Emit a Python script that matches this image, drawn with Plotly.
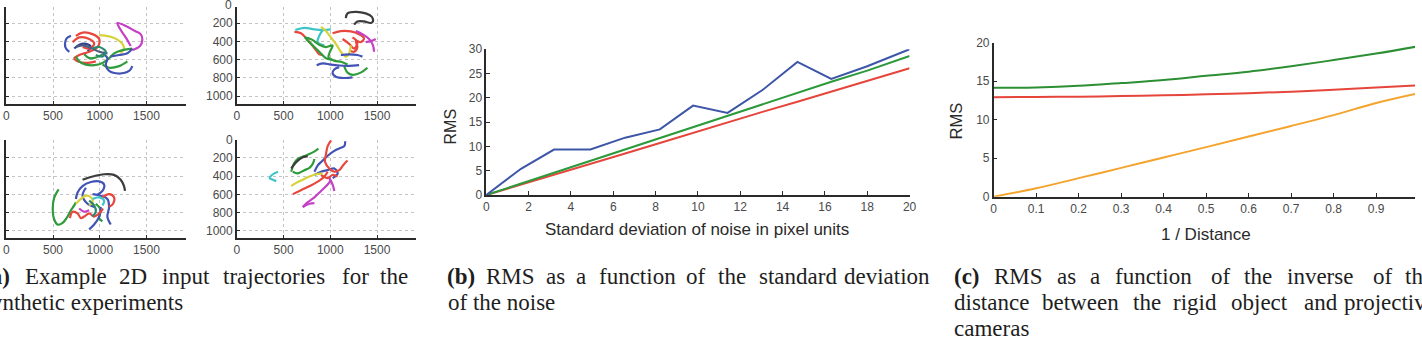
import plotly.graph_objects as go

W, H = 1422, 344

# ---------------- Panel (a): 2D input trajectories (image pixel coords) ----------------
tl_paths = {
    "blue_a": ([692, 646, 628, 639, 675], [339, 367, 427, 479, 514]),
    "navy_a": ([728, 781, 852, 905, 870], [479, 437, 427, 462, 507]),
    "red_a": ([745, 817, 923, 994, 976, 888, 781, 728, 763, 852, 958],
              [339, 304, 321, 374, 462, 514, 549, 584, 619, 636, 619]),
    "red_b": ([710, 781, 888, 941, 888, 817], [409, 356, 374, 427, 479, 462]),
    "yellow_a": ([994, 1101, 1189, 1243, 1260, 1225], [332, 346, 381, 427, 479, 531]),
    "magenta_a": ([1331, 1285, 1225, 1189, 1285, 1377, 1438, 1456, 1431, 1349],
                  [451, 367, 276, 199, 234, 287, 321, 381, 451, 496]),
    "green_a": ([745, 781, 852, 941, 1030, 1101, 1154, 1243, 1349],
                [566, 619, 654, 661, 636, 584, 531, 496, 479]),
    "green_b": ([1030, 1101, 1207, 1296], [654, 689, 671, 619]),
    "green_c": ([834, 888, 958, 1030], [542, 584, 577, 542]),
    "blue_b": ([1030, 1083, 1065, 1101, 1207, 1314, 1349], [531, 584, 654, 724, 752, 724, 671]),
    "blue_c": ([1118, 1207, 1296, 1349], [566, 549, 531, 479]),
    "slate_a": ([745, 817, 923, 994, 1083], [462, 444, 479, 514, 531]),
    "teal_b": ([923, 994, 1065, 1030, 958], [479, 462, 514, 566, 549]),
}

tr_paths = {
    "black_a": ([1166, 1184, 1273, 1379, 1443, 1457, 1432, 1361, 1290, 1255],
                [147, 94, 77, 94, 129, 182, 199, 182, 182, 217]),
    "cyan_a": ([626, 722, 829, 918, 1006], [276, 252, 269, 276, 269]),
    "cyan_b": ([918, 882, 864, 935], [276, 339, 409, 444]),
    "red_a": ([616, 687, 747, 793, 847, 882, 918], [297, 311, 374, 427, 496, 542, 549]),
    "red_b": ([1024, 1113, 1219, 1308, 1361, 1326, 1273, 1290, 1255, 1202],
              [311, 287, 290, 322, 367, 409, 392, 462, 514, 496]),
    "red_c": ([1131, 1202, 1255, 1290, 1237], [374, 427, 479, 409, 357]),
    "yellow_a": ([900, 953, 1006, 1060, 1113, 1166, 1202, 1219], [241, 287, 357, 427, 514, 567, 532, 444]),
    "magenta_a": ([1273, 1344, 1415, 1457, 1468], [287, 322, 374, 444, 514]),
    "magenta_b": ([1379, 1450, 1486], [409, 392, 374]),
    "green_a": ([722, 804, 882, 953, 1024, 996, 981, 1042, 1123, 1184],
                [357, 381, 437, 462, 444, 514, 577, 612, 626, 654]),
    "green_b": ([1148, 1184, 1237, 1326, 1397], [672, 742, 766, 742, 689]),
    "green_c": ([740, 811, 882, 953, 1024], [374, 444, 514, 584, 601]),
    "blue_a": ([854, 918, 1006, 1095, 1202, 1308], [661, 640, 654, 664, 668, 661]),
    "blue_b": ([1095, 1042, 1024, 1060, 1148, 1237], [682, 707, 749, 787, 801, 794]),
    "blue_c": ([1113, 1202, 1290, 1344], [549, 542, 549, 567]),
}

bl_paths = {
    "black_a": ([816, 923, 1047, 1153, 1224, 1260, 1270], [439, 404, 379, 386, 439, 509, 562]),
    "green_a": ([560, 514, 497, 514, 550, 603, 656, 692, 727, 745],
                [544, 632, 755, 878, 931, 913, 843, 773, 720, 685]),
    "green_b": ([958, 1011, 994, 1029], [702, 772, 860, 895]),
    "blue_a": ([745, 763, 816, 905, 994, 1047, 1029, 976], [650, 579, 509, 464, 457, 492, 562, 604]),
    "blue_b": ([923, 1011, 1082, 1100, 1082, 1118], [597, 614, 650, 737, 843, 930]),
    "blue_c": ([887, 940, 994, 1011], [983, 930, 843, 737]),
    "blue_d": ([852, 816, 869, 940], [527, 614, 702, 737]),
    "yellow_a": ([745, 798, 852, 905, 923, 887], [702, 650, 614, 632, 685, 720]),
    "red_a": ([681, 710, 763, 798, 834, 887, 940, 994, 1036], [860, 790, 808, 860, 843, 808, 843, 808, 755]),
    "red_b": ([1029, 1100, 1153, 1143, 1100], [632, 597, 632, 702, 737]),
    "magenta_a": ([780, 834, 887], [755, 790, 773]),
    "cyan_a": ([923, 994, 1047, 1029], [650, 632, 667, 720]),
    "teal_a": ([887, 940, 958, 923], [667, 720, 790, 843]),
}

br_paths = {
    "cyan_a": ([440, 386, 351, 386, 422], [351, 379, 422, 439, 457]),
    "green_a": ([582, 610, 652, 716, 777, 823, 873], [351, 264, 211, 183, 158, 134, 99]),
    "green_b": ([599, 652, 723, 777, 813, 830], [351, 369, 334, 309, 264, 211]),
    "black_a": ([582, 635, 706, 759], [316, 246, 193, 183]),
    "blue_a": ([830, 866, 919, 972, 1043, 1114, 1150, 1160], [351, 281, 229, 176, 123, 88, 71, 18]),
    "blue_b": ([830, 901, 972, 1043, 1079, 1025], [387, 351, 334, 316, 369, 422]),
    "red_a": ([1008, 972, 954, 944, 990, 1043, 1096, 1142, 1185], [7, 71, 158, 246, 316, 351, 334, 274, 229]),
    "red_b": ([599, 670, 741, 812, 883, 937, 972], [597, 562, 527, 492, 450, 404, 351]),
    "red_c": ([901, 972, 1025, 1079], [387, 422, 387, 404]),
    "yellow_a": ([582, 635, 706, 777, 848, 919], [509, 474, 439, 404, 379, 369]),
    "magenta_a": ([706, 759, 830, 901, 972, 1008], [738, 685, 632, 562, 492, 439]),
    "magenta_b": ([706, 777, 830], [738, 703, 695]),
    "magenta_c": ([990, 1025, 1043], [422, 492, 562]),
}

traj_xticks = [0, 500, 1000, 1500]
traj_yticks = [0, 200, 400, 600, 800, 1000]

# ---------------- Panel (b): RMS vs noise std ----------------
noise_std = [0, 1.64, 3.2, 4.92, 6.56, 8.2, 9.77, 11.4, 13.05, 14.7, 16.3, 18.0, 20.0]
rms_blue = [0, 5.4, 9.36, 9.36, 11.8, 13.5, 18.4, 16.9, 21.6, 27.4, 23.9, 26.5, 30.0]
rms_green = [0, 2.35, 4.6, 7.0, 9.4, 11.7, 14.0, 16.3, 18.7, 21.0, 23.3, 25.6, 28.6]
rms_red = [0, 2.1, 4.2, 6.4, 8.55, 10.7, 12.8, 14.9, 17.1, 19.2, 21.3, 23.5, 26.1]
b_xticks = [0, 2, 4, 6, 8, 10, 12, 14, 16, 18, 20]
b_yticks = [0, 5, 10, 15, 20, 25, 30]

# ---------------- Panel (c): RMS vs 1/distance ----------------
inv_dist = [0, 0.1, 0.2, 0.3, 0.4, 0.5, 0.6, 0.7, 0.8, 0.9, 1.0]
rms_c_green = [14.14, 14.2, 14.4, 14.76, 15.15, 15.7, 16.25, 16.96, 17.75, 18.6, 19.55]
rms_c_red = [12.93, 12.95, 13.0, 13.07, 13.17, 13.3, 13.45, 13.64, 13.9, 14.18, 14.48]
rms_c_orange = [0, 1.08, 2.41, 3.74, 5.1, 6.44, 7.82, 9.19, 10.6, 12.18, 13.45]
c_xticks = [0, 0.1, 0.2, 0.3, 0.4, 0.5, 0.6, 0.7, 0.8, 0.9, 1.0]
c_xticklabels = ["0", "0.1", "0.2", "0.3", "0.4", "0.5", "0.6", "0.7", "0.8", "0.9", "1"]
c_yticks = [0, 5, 10, 15, 20]

# ---------------- Captions ----------------
cap_a1 = ["<b>(a)</b>", "Example", "2D", "input", "trajectories", "for", "the"]
cap_a2 = ["synthetic experiments"]
cap_b1 = ["<b>(b)</b>", "RMS", "as", "a", "function", "of", "the", "standard", "deviation"]
cap_b2 = ["of the noise"]
cap_c1 = ["<b>(c)</b>", "RMS", "as", "a", "function", "of", "the", "inverse", "of", "the"]
cap_c2 = ["distance", "between", "the", "rigid", "object", "and", "projective"]
cap_c3 = ["cameras"]

# ================= styling / layout =================
TRAJ_COL = {
    "blue": "#4253b5", "navy": "#2f3f92", "slate": "#4d5d7e", "red": "#e8473e",
    "yellow": "#d6d23c", "magenta": "#c640c6", "green": "#2f9c3b", "cyan": "#3ec4c6",
    "black": "#3c3c3c", "teal": "#2b8a6e",
}
SANS = "Liberation Sans, Arial, sans-serif"
SERIF = "Liberation Serif, Times New Roman, serif"
AX = "#2a2a2a"
TICKC = "#4a4a4a"


def fx(p):
    return p / W


def fy(p):
    return 1 - p / H


fig = go.Figure()

panel_axes = [(tl_paths, "x", "y"), (tr_paths, "x2", "y2"), (bl_paths, "x3", "y3"), (br_paths, "x4", "y4")]
for paths, xa, ya in panel_axes:
    for name, (xs, ys) in paths.items():
        fig.add_trace(go.Scatter(
            x=xs, y=ys, mode="lines", xaxis=xa, yaxis=ya, showlegend=False,
            line=dict(color=TRAJ_COL[name.split("_")[0]], width=2.2, shape="spline", smoothing=1.0),
            hoverinfo="skip"))

fig.add_trace(go.Scatter(x=noise_std, y=rms_red, mode="lines", xaxis="x5", yaxis="y5",
                         line=dict(color="#e6453c", width=2), showlegend=False))
fig.add_trace(go.Scatter(x=noise_std, y=rms_green, mode="lines", xaxis="x5", yaxis="y5",
                         line=dict(color="#2c9a3a", width=2), showlegend=False))
fig.add_trace(go.Scatter(x=noise_std, y=rms_blue, mode="lines", xaxis="x5", yaxis="y5",
                         line=dict(color="#3d56a8", width=2), showlegend=False))

fig.add_trace(go.Scatter(x=inv_dist, y=rms_c_orange, mode="lines", xaxis="x6", yaxis="y6",
                         line=dict(color="#f4a32c", width=2, shape="spline"), showlegend=False))
fig.add_trace(go.Scatter(x=inv_dist, y=rms_c_red, mode="lines", xaxis="x6", yaxis="y6",
                         line=dict(color="#e6453c", width=2, shape="spline"), showlegend=False))
fig.add_trace(go.Scatter(x=inv_dist, y=rms_c_green, mode="lines", xaxis="x6", yaxis="y6",
                         line=dict(color="#2d8f34", width=2, shape="spline"), showlegend=False))


def traj_x(dom, anchor):
    return dict(domain=dom, anchor=anchor, range=[0, 1920], tickvals=traj_xticks,
                showline=True, linecolor=AX, linewidth=1.5, ticks="inside", ticklen=3,
                tickcolor=AX, showgrid=True, gridcolor="#c4c4c4", griddash="dot", gridwidth=1,
                zeroline=False, tickfont=dict(family=SANS, size=12, color=TICKC), fixedrange=True)


def traj_y(dom, anchor, rng, labels):
    return dict(domain=dom, anchor=anchor, range=rng, tickvals=traj_yticks,
                showline=True, linecolor=AX, linewidth=1.5, ticks="inside", ticklen=3,
                tickcolor=AX, showgrid=True, gridcolor="#c4c4c4", griddash="dot", gridwidth=1,
                zeroline=False, showticklabels=labels,
                tickfont=dict(family=SANS, size=12, color=TICKC), fixedrange=True)


top_dom = [fy(100.6), 1.0]
bot_dom = [fy(241.0), fy(138.3)]
left_dom = [fx(3.3), fx(184.0)]
right_dom = [fx(235.5), fx(416.2)]

plain_ax = dict(showline=True, linecolor=AX, linewidth=1.5, ticks="inside", ticklen=4,
                tickcolor=AX, showgrid=False, zeroline=False,
                tickfont=dict(family=SANS, size=12, color=TICKC), fixedrange=True)

layout = dict(
    width=W, height=H, margin=dict(l=0, r=0, t=0, b=0),
    paper_bgcolor="white", plot_bgcolor="white", showlegend=False,
    xaxis=traj_x(left_dom, "y"), yaxis=traj_y(top_dom, "x", [1080, 24], False),
    xaxis2=traj_x(right_dom, "y2"), yaxis2=traj_y(top_dom, "x2", [1080, 24], True),
    xaxis3=traj_x(left_dom, "y3"), yaxis3=traj_y(bot_dom, "x3", [1080, 0], False),
    xaxis4=traj_x(right_dom, "y4"), yaxis4=traj_y(bot_dom, "x4", [1080, 0], True),
    xaxis5=dict(domain=[fx(486.7), fx(913.0)], anchor="y5", range=[0, 20], tickvals=b_xticks, **plain_ax),
    yaxis5=dict(domain=[fy(196.0), fy(44.0)], anchor="x5", range=[0, 30], tickvals=b_yticks, **plain_ax),
    xaxis6=dict(domain=[fx(997.7), 1.0], anchor="y6", range=[0, (W - 997.7) / 428.0],
                tickvals=c_xticks, ticktext=c_xticklabels, **plain_ax),
    yaxis6=dict(domain=[fy(197.7), fy(37.3)], anchor="x6", range=[0, 20], tickvals=c_yticks, **plain_ax),
)
fig.update_layout(**layout)

ann = []


def add_text(text, xpx, ypx, size, family, color="#1e1e1e", angle=0, xanchor="left"):
    ann.append(dict(text=text, x=xpx / W, y=1 - ypx / H, xref="paper", yref="paper",
                    xanchor=xanchor, yanchor="middle", showarrow=False, textangle=angle,
                    borderpad=0, borderwidth=0,
                    font=dict(family=family, size=size, color=color)))


# partly visible top tick label of the upper-right trajectory plot (cut by the page edge)
add_text("0", 231.0, -2.3, 12, SANS, TICKC, 0, "right")

# axis titles
add_text("RMS", 450.7, 125.0, 16, SANS, "#2a2a2a", -90, "center")
add_text("Standard deviation of noise in pixel units", 699.0, 231.7, 17, SANS, "#2a2a2a", 0, "center")
add_text("RMS", 960.7, 118.3, 16.5, SANS, "#2a2a2a", -90, "center")
add_text("1 / Distance", 1212.0, 236.7, 17, SANS, "#2a2a2a", 0, "center")

# captions (justified lines: each word placed where it sits in the page)
CAP = 23
L1, L2, L3 = 281.0, 308.0, 335.0
for words, starts, yy in [
    (cap_a1, [-20.0, 21.7, 116.7, 160.0, 222.0, 341.0, 380.0], L1),
    (cap_a2, [-21.0], L2),
    (cap_b1, [446.7, 486.0, 546.7, 576.7, 600.0, 688.0, 720.0, 761.7, 847.0], L1),
    (cap_b2, [448.3], L2),
    (cap_c1, [958.0, 998.0, 1061.7, 1095.0, 1120.0, 1216.7, 1250.0, 1293.0, 1380.0, 1411.7], L1),
    (cap_c2, [958.0, 1046.7, 1138.0, 1178.0, 1237.0, 1310.0, 1350.0], L2),
    (cap_c3, [958.0], L3),
]:
    for w, s in zip(words, starts):
        add_text(w, s, yy, CAP, SERIF)

fig.update_layout(annotations=ann)
fig.write_html("out.html")
